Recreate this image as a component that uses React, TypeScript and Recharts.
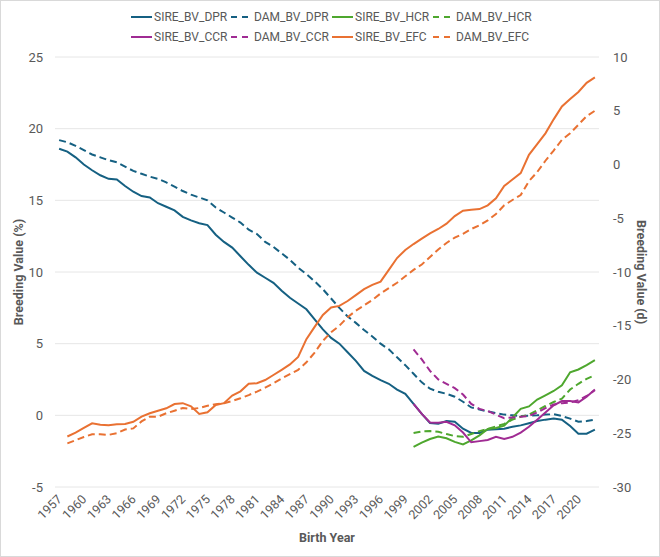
import React from 'react';
import { LineChart, Line, XAxis, YAxis, CartesianGrid } from 'recharts';

const FIRST_YEAR = 1957;
const LAST_YEAR = 2022;
const DPR_START = 1957;
const EFC_START = 1958;
const FERT_START = 2000;

const X_TICKS = [1957, 1960, 1963, 1966, 1969, 1972, 1975, 1978, 1981, 1984, 1987, 1990, 1993, 1996, 1999, 2002, 2005, 2008, 2011, 2014, 2017, 2020];
const LEFT_TICKS = [-5, 0, 5, 10, 15, 20, 25];
const RIGHT_TICKS = [-30, -25, -20, -15, -10, -5, 0, 5, 10];

// DPR (%), 1957-2022
const SIRE_BV_DPR = [
  18.6, 18.4, 18.0, 17.5, 17.1, 16.75, 16.5, 16.45, 16.0, 15.6,
  15.3, 15.2, 14.8, 14.55, 14.3, 13.85, 13.6, 13.4, 13.27, 12.6,
  12.1, 11.7, 11.1, 10.5, 9.95, 9.6, 9.24, 8.7, 8.2, 7.8,
  7.4, 6.7, 6.0, 5.4, 5.0, 4.4, 3.8, 3.1, 2.75, 2.45,
  2.2, 1.8, 1.5, 0.8, 0.1, -0.54, -0.58, -0.4, -0.45, -0.93,
  -1.23, -1.23, -1.0, -0.97, -0.93, -0.8, -0.7, -0.55, -0.4, -0.3,
  -0.23, -0.3, -0.75, -1.28, -1.28, -1.0,
];
const DAM_BV_DPR = [
  19.2, 19.05, 18.8, 18.5, 18.2, 18.0, 17.8, 17.65, 17.35, 17.05,
  16.85, 16.65, 16.5, 16.25, 15.95, 15.65, 15.4, 15.2, 15.0, 14.5,
  14.15, 13.8, 13.45, 12.95, 12.65, 12.1, 11.75, 11.3, 10.85, 10.3,
  9.85, 9.35, 8.8, 8.15, 7.5, 6.9, 6.45, 5.95, 5.5, 5.0,
  4.6, 4.05, 3.5, 2.9, 2.3, 1.86, 1.65, 1.5, 1.3, 0.95,
  0.55, 0.4, 0.28, 0.15, 0.05, 0.0, -0.05, -0.02, 0.0, 0.05,
  0.08, -0.05, -0.23, -0.45, -0.4, -0.3,
];

// HCR / CCR (%), 2000-2022
const SIRE_BV_HCR = [
  -2.2, -1.9, -1.65, -1.48, -1.6, -1.85, -2.03, -1.75, -1.4, -0.95,
  -0.88, -0.72, -0.15, 0.45, 0.62, 1.1, 1.4, 1.7, 2.1, 3.0,
  3.2, 3.5, 3.85,
];
const DAM_BV_HCR = [
  -1.23, -1.12, -1.1, -1.15, -1.3, -1.45, -1.5, -1.3, -1.1, -0.95,
  -0.77, -0.6, -0.3, -0.1, 0.05, 0.35, 0.65, 0.93, 1.17, 1.8,
  2.2, 2.55, 2.8,
];
const SIRE_BV_CCR = [
  0.8, 0.1, -0.5, -0.52, -0.45, -0.7, -1.2, -1.88, -1.8, -1.72,
  -1.5, -1.65, -1.5, -1.2, -0.8, -0.3, 0.2, 0.7, 1.0, 1.0,
  0.9, 1.3, 1.8,
];
const DAM_BV_CCR = [
  4.6, 3.9, 3.1, 2.5, 2.2, 1.9, 1.45, 0.8, 0.45, 0.3,
  0.05, -0.2, -0.15, -0.1, -0.05, 0.2, 0.5, 0.75, 0.85, 0.9,
  1.05, 1.35, 1.75,
];

// EFC (d), 1958-2022
const SIRE_BV_EFC = [
  -25.3, -24.95, -24.5, -24.07, -24.2, -24.25, -24.17, -24.14, -23.93,
  -23.45, -23.14, -22.9, -22.68, -22.28, -22.2, -22.5, -23.2, -23.05, -22.37,
  -22.2, -21.5, -21.1, -20.4, -20.35, -20.05, -19.58, -19.1, -18.6, -17.9,
  -16.25, -15.1, -14.0, -13.3, -13.15, -12.7, -12.15, -11.6, -11.2, -10.9,
  -9.8, -8.7, -7.95, -7.4, -6.9, -6.4, -6.0, -5.5, -4.8, -4.3,
  -4.2, -4.15, -3.8, -3.15, -2.0, -1.4, -0.8, 0.9, 1.9, 2.9,
  4.2, 5.4, 6.1, 6.75, 7.6, 8.1,
];
const DAM_BV_EFC = [
  -25.94, -25.65, -25.35, -25.1, -25.1, -25.15, -25.0, -24.65, -24.55,
  -23.9, -23.46, -23.46, -23.14, -22.9, -22.65, -22.75, -22.65, -22.45, -22.3,
  -22.2, -22.0, -21.75, -21.45, -21.13, -20.75, -20.35, -19.9, -19.5, -19.1,
  -18.4, -17.5, -16.4, -15.6, -15.0, -14.2, -13.6, -13.1, -12.6, -12.0,
  -11.5, -11.0, -10.4, -9.8, -9.3, -8.6, -7.9, -7.3, -6.8, -6.45,
  -6.0, -5.65, -5.2, -4.6, -3.8, -3.3, -2.84, -1.55, -0.7, 0.35,
  1.3, 2.3, 2.9, 3.7, 4.5, 5.0,
];

const BLUE = '#156082';
const GREEN = '#4EA72E';
const MAGENTA = '#A02B93';
const ORANGE = '#E97132';
const TEXT = '#595959';
const FONT = 'Roboto, "Liberation Sans", sans-serif';

const SERIES = [
  { key: 'SIRE_BV_DPR', values: SIRE_BV_DPR, start: DPR_START, axis: 'left', color: BLUE, dashed: false },
  { key: 'DAM_BV_DPR', values: DAM_BV_DPR, start: DPR_START, axis: 'left', color: BLUE, dashed: true },
  { key: 'SIRE_BV_HCR', values: SIRE_BV_HCR, start: FERT_START, axis: 'left', color: GREEN, dashed: false },
  { key: 'DAM_BV_HCR', values: DAM_BV_HCR, start: FERT_START, axis: 'left', color: GREEN, dashed: true },
  { key: 'SIRE_BV_CCR', values: SIRE_BV_CCR, start: FERT_START, axis: 'left', color: MAGENTA, dashed: false },
  { key: 'DAM_BV_CCR', values: DAM_BV_CCR, start: FERT_START, axis: 'left', color: MAGENTA, dashed: true },
  { key: 'SIRE_BV_EFC', values: SIRE_BV_EFC, start: EFC_START, axis: 'right', color: ORANGE, dashed: false },
  { key: 'DAM_BV_EFC', values: DAM_BV_EFC, start: EFC_START, axis: 'right', color: ORANGE, dashed: true },
];

const DATA: Record<string, number | null>[] = [];
for (let year = FIRST_YEAR; year <= LAST_YEAR; year++) {
  const row: Record<string, number | null> = { year };
  SERIES.forEach((s) => {
    const i = year - s.start;
    row[s.key] = i >= 0 && i < s.values.length ? s.values[i] : null;
  });
  DATA.push(row);
}

const DASH = '7 4';

const YearTick = (props: any) => {
  const { x, y, payload } = props;
  const tx = x + 3.5;
  const ty = y + 13;
  return (
    <text
      x={tx}
      y={ty}
      transform={`rotate(-45 ${tx} ${ty})`}
      textAnchor="end"
      fill={TEXT}
      fontSize={12.5}
      fontFamily={FONT}
    >
      {payload.value}
    </text>
  );
};

const LEGEND_COLS = [131, 231, 332, 433];
const LEGEND_ROWS = [17, 37];

export default function App() {
  return (
    <div style={{ position: 'absolute', left: 0, top: 0, width: 660, height: 557, background: '#fff', fontFamily: FONT }}>
      <div style={{ position: 'absolute', left: 0, top: 0, width: 660, height: 557, boxSizing: 'border-box', border: '1px solid #d9d9d9' }} />
      <LineChart width={660} height={557} data={DATA} margin={{ top: 57, right: 0, bottom: 0, left: 0 }}>
        <CartesianGrid yAxisId="left" vertical={false} stroke="#e6e6e6" strokeWidth={1} />
        <XAxis
          dataKey="year"
          type="number"
          domain={[1956.5, 2022.5]}
          ticks={X_TICKS}
          interval={0}
          height={70}
          axisLine={false}
          tickLine={false}
          tickSize={0}
          tickMargin={0}
          tick={<YearTick />}
        />
        <YAxis
          yAxisId="left"
          width={55}
          domain={[-5, 25]}
          ticks={LEFT_TICKS}
          interval={0}
          axisLine={false}
          tickLine={false}
          tickSize={0}
          tickMargin={12}
          tick={{ fill: TEXT, fontSize: 13, fontFamily: FONT }}
        />
        <YAxis
          yAxisId="right"
          orientation="right"
          width={61}
          domain={[-30, 10]}
          ticks={RIGHT_TICKS}
          interval={0}
          axisLine={false}
          tickLine={false}
          tickSize={0}
          tickMargin={14}
          tick={{ fill: TEXT, fontSize: 13, fontFamily: FONT, textAnchor: 'start' }}
        />
        {SERIES.map((s) => (
          <Line
            key={s.key}
            yAxisId={s.axis}
            dataKey={s.key}
            type="linear"
            stroke={s.color}
            strokeWidth={2}
            strokeDasharray={s.dashed ? DASH : undefined}
            dot={false}
            activeDot={false}
            isAnimationActive={false}
          />
        ))}
      </LineChart>
      {SERIES.map((s, i) => {
        const left = LEGEND_COLS[i % 4];
        const top = LEGEND_ROWS[Math.floor(i / 4)];
        return (
          <div key={s.key} style={{ position: 'absolute', left, top: top - 9, height: 18, display: 'flex', alignItems: 'center', whiteSpace: 'nowrap' }}>
            <svg width={21} height={4} style={{ marginRight: 2 }}>
              <line x1={0} y1={2} x2={21} y2={2} stroke={s.color} strokeWidth={2} strokeDasharray={s.dashed ? '6 5' : undefined} />
            </svg>
            <span style={{ fontSize: 12, color: TEXT, fontFamily: FONT }}>{s.key}</span>
          </div>
        );
      })}
      <div style={{ position: 'absolute', left: 18, top: 272, transform: 'translate(-50%, -50%) rotate(-90deg)', whiteSpace: 'nowrap', fontWeight: 'bold', fontSize: 12.5, color: TEXT }}>
        Breeding Value (%)
      </div>
      <div style={{ position: 'absolute', left: 641, top: 272, transform: 'translate(-50%, -50%) rotate(90deg)', whiteSpace: 'nowrap', fontWeight: 'bold', fontSize: 12.5, color: TEXT }}>
        Breeding Value (d)
      </div>
      <div style={{ position: 'absolute', left: 327, top: 537, transform: 'translate(-50%, -50%)', whiteSpace: 'nowrap', fontWeight: 'bold', fontSize: 12.5, color: TEXT }}>
        Birth Year
      </div>
    </div>
  );
}
